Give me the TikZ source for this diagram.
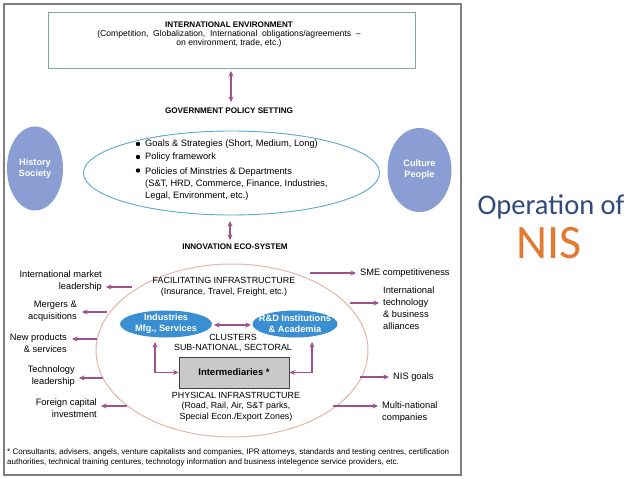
\documentclass[tikz,border=0pt]{standalone}
\usepackage{fontspec}
\setmainfont{Liberation Sans}
\newfontfamily\calib{Carlito}
\usetikzlibrary{shapes.geometric,arrows.meta}
\definecolor{arrc}{HTML}{A0508A}
\definecolor{framec}{HTML}{7F7F7F}
\definecolor{boxc}{HTML}{7FA8B4}
\definecolor{govc}{HTML}{5AA8CC}
\definecolor{circc}{HTML}{8A9ED3}
\definecolor{pinkc}{HTML}{E5B5A6}
\definecolor{bluec}{HTML}{3A8ED2}
\definecolor{greyc}{HTML}{C9C9C9}
\definecolor{titlec}{HTML}{2F4B7C}
\definecolor{nisc}{HTML}{E27A32}
\begin{document}
\begin{tikzpicture}[x=1pt,y=-1pt,
  arr/.style={draw=arrc, line width=1.5pt, -{Stealth[length=5.5pt,width=5pt]}},
  darr/.style={draw=arrc, line width=1.5pt, {Stealth[length=5.5pt,width=5pt]}-{Stealth[length=5.5pt,width=5pt]}},
  txt/.style={inner sep=0pt, font=\fontsize{9.3}{12}\selectfont},
  head/.style={inner sep=0pt, font=\fontsize{8.1}{10}\selectfont\bfseries},
  caps/.style={inner sep=0pt, font=\fontsize{8.9}{10.5}\selectfont},
  wtxt/.style={inner sep=0pt, text=white, align=center, font=\fontsize{9.2}{11}\selectfont\bfseries},
  lab/.style={txt, align=right, anchor=east},
  rlab/.style={txt, align=left, anchor=west},
  dot/.style={circle, fill=black, inner sep=0pt, minimum size=4.4pt},
]
\useasboundingbox (0,0) rectangle (638,479);
\fill[white] (0,0) rectangle (638,479);
\draw[framec, line width=1.3pt] (4,4) rectangle (461,475);

% International environment
\node[draw=boxc, line width=0.9pt, minimum width=367pt, minimum height=56pt, inner sep=0pt] (ienv) at (231.5,40) {};
\node[head] (ienvt) at (229,25) {INTERNATIONAL ENVIRONMENT};
\node[inner sep=0pt, align=center, font=\fontsize{8.6}{9.2}\selectfont] (ienvx) at (229,38.5)
  {(Competition,\ \ Globalization,\ \ International\ \ obligations/agreements \ –\\on environment, trade, etc.)};

% Government policy
\coordinate (a1s) at (231,71);
\coordinate (a1e) at (231,102);
\draw[darr] (a1s) -- (a1e);
\node[head] (gpst) at (229,111) {GOVERNMENT POLICY SETTING};
\node[draw=govc, line width=0.9pt, ellipse, minimum width=296pt, minimum height=84pt, inner sep=0pt] (gov) at (231.5,173) {};
\node[dot] (b1) at (138,144) {};
\node[dot] (b2) at (138,157) {};
\node[dot] (b3) at (138,170.5) {};
\node[txt, anchor=west] (bt1) at (145,144) {Goals \& Strategies (Short, Medium, Long)};
\node[txt, anchor=west] (bt2) at (145,157) {Policy framework};
\node[txt, anchor=north west, align=left, font=\fontsize{9.3}{12.2}\selectfont] (bt3) at (145,167.3) {Policies of Minstries \& Departments\\(S\&T, HRD, Commerce, Finance, Industries,\\Legal, Environment, etc.)};

\node[ellipse, fill=circc, minimum width=56pt, minimum height=84pt, inner sep=0pt] (hist) at (35,168.5) {};
\node[wtxt] (histt) at (hist.center) {History\\Society};
\node[ellipse, fill=circc, minimum width=64pt, minimum height=84pt, inner sep=0pt] (cult) at (419.5,170) {};
\node[wtxt] (cultt) at (cult.center) {Culture\\People};

% Innovation eco-system
\coordinate (a2s) at (230,221);
\coordinate (a2e) at (230,240);
\draw[darr] (a2s) -- (a2e);
\node[head] (iest) at (235,247) {INNOVATION ECO-SYSTEM};
\node[draw=pinkc, line width=1pt, ellipse, minimum width=272pt, minimum height=173pt, inner sep=0pt] (eco) at (232,350.5) {};

\node[caps, align=center] (fac) at (224,287) {FACILITATING INFRASTRUCTURE\\(Insurance, Travel, Freight, etc.)};

\node[ellipse, fill=bluec, minimum width=92pt, minimum height=27pt, inner sep=0pt] (ind) at (166,324) {};
\node[wtxt] (indt) at (ind.center) {Industries\\Mfg., Services};
\node[ellipse, fill=bluec, minimum width=85pt, minimum height=27pt, inner sep=0pt] (rnd) at (295,324) {};
\node[wtxt] (rndt) at (rnd.center) {R\&D Institutions\\\& Academia};
\coordinate (c1) at (214,325);
\coordinate (c2) at (251,325);
\draw[darr] (c1) -- (c2);

\node[caps, align=center] (clu) at (233,343) {CLUSTERS\\SUB-NATIONAL, SECTORAL};

\node[draw=black!75, fill=greyc, line width=0.9pt, minimum width=110pt, minimum height=31pt, inner sep=0pt] (int) at (234,372.5) {};
\node[inner sep=0pt, font=\fontsize{9.5}{11}\selectfont\bfseries] (intt) at (int.center) {Intermediaries *};

\coordinate (lup) at (155,342);
\coordinate (rup) at (312,342);
\draw[darr] (lup) |- (int.west);
\draw[darr] (rup) |- (int.east);

\node[caps, align=center] (phy) at (236,406.5) {PHYSICAL INFRASTRUCTURE\\(Road, Rail, Air, S\&T parks,\\Special Econ./Export Zones)};

% Left outputs
\node[lab] (l1) at (102,281) {International market\\leadership};
\coordinate (l1s) at (132,287); \coordinate (l1e) at (106,287);
\draw[arr] (l1s) -- (l1e);
\node[lab] (l2) at (77,311) {Mergers \&\\acquisitions};
\coordinate (l2s) at (107,312); \coordinate (l2e) at (82,312);
\draw[arr] (l2s) -- (l2e);
\node[lab] (l3) at (67,343) {New products\\\& services};
\coordinate (l3s) at (97,339); \coordinate (l3e) at (72,339);
\draw[arr] (l3s) -- (l3e);
\node[lab] (l4) at (75,376) {Technology\\leadership};
\coordinate (l4s) at (103,378); \coordinate (l4e) at (79,378);
\draw[arr] (l4s) -- (l4e);
\node[lab] (l5) at (97,408.5) {Foreign capital\\investment};
\coordinate (l5s) at (127,406); \coordinate (l5e) at (101,406);
\draw[arr] (l5s) -- (l5e);

% Right outputs
\node[rlab] (r1) at (360,273) {SME competitiveness};
\coordinate (r1s) at (310,273); \coordinate (r1e) at (356,273);
\draw[arr] (r1s) -- (r1e);
\node[rlab] (r2) at (383,308) {International\\technology\\\& business\\alliances};
\coordinate (r2s) at (350,303); \coordinate (r2e) at (379,303);
\draw[arr] (r2s) -- (r2e);
\node[rlab] (r3) at (393,377) {NIS goals};
\coordinate (r3s) at (360,377); \coordinate (r3e) at (389,377);
\draw[arr] (r3s) -- (r3e);
\node[rlab] (r4) at (382,412) {Multi-national\\companies};
\coordinate (r4s) at (333,406); \coordinate (r4e) at (378,406);
\draw[arr] (r4s) -- (r4e);

% Footnote
\node[inner sep=0pt, anchor=west, align=left, font=\fontsize{8}{10}\selectfont] (fn) at (7,457)
 {* Consultants, advisers, angels, venture capitalists and companies, IPR attorneys, standards and testing centres, certification\\
 authorities, technical training centures, technology information and business intelegence service providers, etc.};

% Title
\node[inner sep=0pt, text=titlec, font=\calib\fontsize{28.5}{30}\selectfont] (op) at (551,207) {Operation of};
\node[inner sep=0pt, text=nisc, font=\calib\fontsize{48}{50}\selectfont] (nis) at (549,243) {NIS};
\end{tikzpicture}
\end{document}
